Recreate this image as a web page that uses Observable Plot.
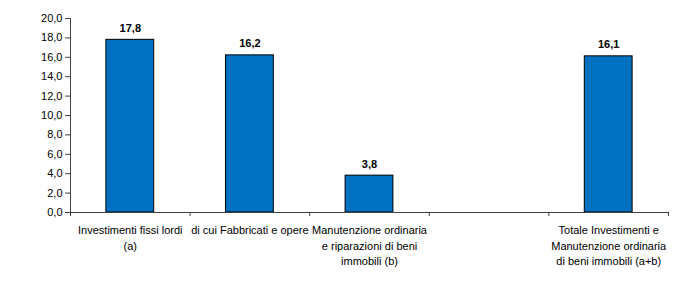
<!DOCTYPE html>
<html>
<head>
<meta charset="utf-8">
<script src="https://cdn.jsdelivr.net/npm/d3@7"></script>
<script src="https://cdn.jsdelivr.net/npm/@observablehq/plot@0.6"></script>
<style>
  html, body { margin: 0; padding: 0; background: #fff; }
  #chart { width: 700px; height: 300px; }
  svg { font-family: "Liberation Sans", Arial, sans-serif; }
</style>
</head>
<body>
<div id="chart"></div>
<script>
const categories = [
  "Investimenti fissi lordi\n(a)",
  "di cui Fabbricati e opere",
  "Manutenzione ordinaria\ne riparazioni di beni\nimmobili (b)",
  "",
  "Totale Investimenti e\nManutenzione ordinaria\ndi beni immobili (a+b)"
];
const values = [17.8, 16.2, 3.8, null, 16.1];
const yTicks = [0, 2, 4, 6, 8, 10, 12, 14, 16, 18, 20];

const fmt = v => d3.format(".1f")(v).replace(".", ",");
const rows = categories.map((c, i) => ({c, i, v: values[i]}));
const bars = rows.filter(d => d.v != null);
const slots = d3.range(categories.length + 1);

const chart = Plot.plot({
  width: 700,
  height: 300,
  marginLeft: 70,
  marginRight: 32,
  marginTop: 18,
  marginBottom: 88,
  style: {fontFamily: '"Liberation Sans", Arial, sans-serif', fontSize: "11px", color: "#000", background: "#fff"},
  x: {type: "linear", domain: [0, categories.length], axis: null},
  y: {domain: [0, 20], axis: null},
  marks: [
    Plot.rectY(bars, {x1: d => d.i + 0.3, x2: d => d.i + 0.7, y1: 0, y2: "v", fill: "#0070C0", stroke: "#000", strokeWidth: 1}),
    Plot.axisY({ticks: yTicks, tickFormat: fmt, tickSize: 5, tickPadding: 3, fontSize: 11, stroke: "#404040", strokeOpacity: 1, color: "#000", label: null}),
    Plot.ruleX([0], {y1: 0, y2: 20, stroke: "#404040"}),
    Plot.axisX({ticks: slots, tickFormat: () => "", tickSize: 4, stroke: "#404040", strokeOpacity: 1, label: null}),
    Plot.ruleY([0], {stroke: "#404040"}),
    Plot.text(rows, {x: d => d.i + 0.5, y: 0, text: "c", lineAnchor: "top", lineHeight: 1.4, dy: 11, fontSize: 11, fill: "#000"}),
    Plot.text(bars, {x: d => d.i + 0.5, y: "v", text: d => fmt(d.v), lineAnchor: "bottom", dy: -8, fontSize: 11, fontWeight: "bold", fill: "#000"})
  ]
});
document.getElementById("chart").appendChild(chart);
</script>
</body>
</html>
